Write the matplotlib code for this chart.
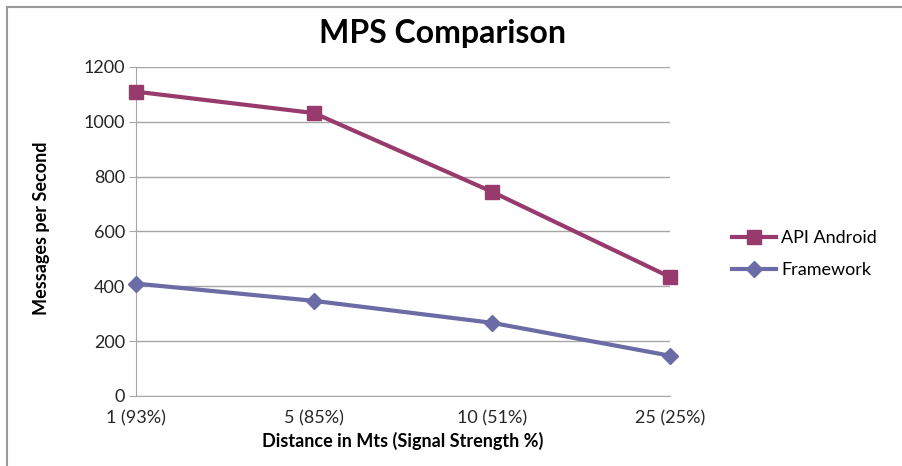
import matplotlib.pyplot as plt
from matplotlib.patches import Rectangle

# data
categories = ['1 (93%)', '5 (85%)', '10 (51%)', '25 (25%)']
api_android = [1110, 1032, 745, 434]
framework = [410, 347, 267, 147]
y_ticks = [0, 200, 400, 600, 800, 1000, 1200]

plt.rcParams['font.family'] = ['Lato', 'DejaVu Sans']
text_c = '#262626'
grid_c = '#a6a6a6'

fig = plt.figure(figsize=(9.03, 4.66), dpi=100)
ax = fig.add_axes([136 / 903, 1 - 396 / 466, (670 - 136) / 903, (396 - 67) / 466])

x = list(range(len(categories)))
ax.plot(x, api_android, color='#983a6c', linewidth=3, marker='s', markersize=10,
        label='API Android', clip_on=False, zorder=3)
ax.plot(x, framework, color='#6b6ba5', linewidth=3, marker='D', markersize=8,
        label='Framework', clip_on=False, zorder=3)

ax.set_xlim(0, len(categories) - 1)
ax.set_ylim(0, 1200)
ax.set_yticks(y_ticks)
ax.set_xticks(x)
ax.set_xticklabels(categories)
ax.grid(axis='y', color=grid_c, linewidth=1)
ax.set_axisbelow(True)
for s in ['top', 'right']:
    ax.spines[s].set_visible(False)
for s in ['left', 'bottom']:
    ax.spines[s].set_color(grid_c)
ax.tick_params(axis='y', direction='out', length=5, color=grid_c, labelsize=13, labelcolor=text_c, pad=3)
ax.tick_params(axis='x', length=0, labelsize=13, labelcolor=text_c, pad=10)

ax.set_xlabel('Distance in Mts (Signal Strength %)', fontsize=13, fontweight='bold', color='black', labelpad=4)
fig.text(42 / 903, 1 - 228 / 466, 'Messages per Second', rotation='vertical', fontsize=13,
         fontweight='bold', ha='center', va='center')
fig.text(443 / 903, 1 - 33 / 466, 'MPS Comparison', fontsize=23, fontweight='bold', ha='center', va='center')

ax.legend(loc='center left', bbox_to_anchor=(716 / 903, 1 - 254 / 466), bbox_transform=fig.transFigure,
          frameon=False, fontsize=13, handlelength=2.4, labelspacing=0.9, handletextpad=0.3)

# chart border (only top and left inside the image)
fig.patches.append(Rectangle((7 / 903, -0.5), 2, 1 - 7 / 466 + 0.5, transform=fig.transFigure,
                             fill=False, edgecolor='#9a9a9a', linewidth=1.5))

plt.savefig('out.png', dpi=100)
